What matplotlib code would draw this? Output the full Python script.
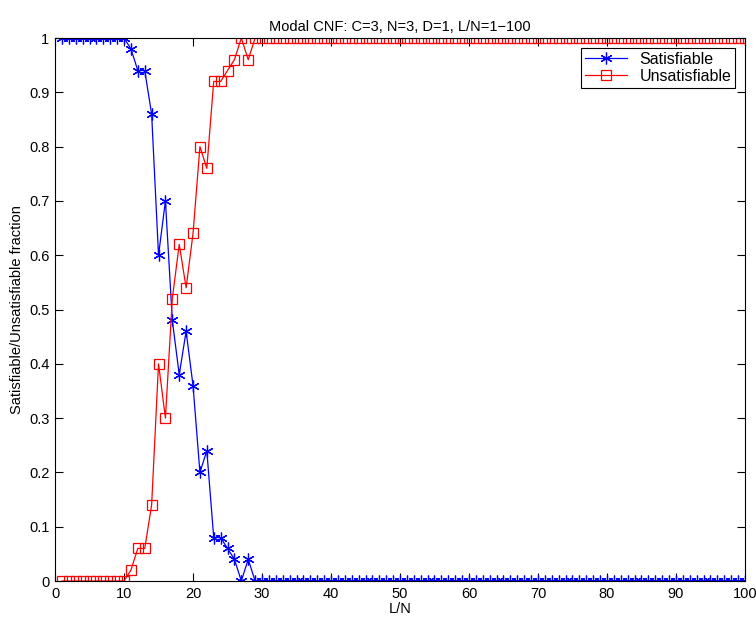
import matplotlib.pyplot as plt

plt.rcParams["font.family"] = ["Liberation Sans", "DejaVu Sans"]

ln_ratio = list(range(1, 101))
sat_head = [1.0] * 10 + [
    0.98, 0.94, 0.94, 0.86, 0.60, 0.70, 0.48, 0.38, 0.46, 0.36,
    0.20, 0.24, 0.08, 0.08, 0.06, 0.04, 0.00, 0.04,
]
satisfiable = sat_head + [0.0] * (100 - len(sat_head))
unsat_head = [0.0] * 10 + [
    0.02, 0.06, 0.06, 0.14, 0.40, 0.30, 0.52, 0.62, 0.54, 0.64,
    0.80, 0.76, 0.92, 0.92, 0.94, 0.96, 1.00, 0.96,
]
unsatisfiable = unsat_head + [1.0] * (100 - len(unsat_head))

x_ticks = list(range(0, 101, 10))
y_ticks = [0, 0.1, 0.2, 0.3, 0.4, 0.5, 0.6, 0.7, 0.8, 0.9, 1]
y_tick_labels = ["0", "0.1", "0.2", "0.3", "0.4", "0.5", "0.6", "0.7", "0.8", "0.9", "1"]


def main() -> None:
    fig = plt.figure(figsize=(7.56, 6.2), dpi=100)
    ax = fig.add_axes([0.0728, 0.0629, 0.9126, 0.8758])

    ax.plot(ln_ratio, satisfiable, color="#0000ff", linewidth=0.9,
            marker=(6, 2, 0), markersize=8.5, markeredgewidth=0.9,
            label="Satisfiable")
    ax.plot(ln_ratio, unsatisfiable, color="#ff0000", linewidth=0.9,
            marker="s", markersize=7.5, markerfacecolor="none",
            markeredgewidth=0.9, label="Unsatisfiable")

    ax.set_xlim(0, 100)
    ax.set_ylim(0, 1)
    ax.set_xticks(x_ticks)
    ax.set_yticks(y_ticks)
    ax.set_yticklabels(y_tick_labels)
    ax.tick_params(direction="in", top=True, right=True, length=6,
                   width=0.8, labelsize=10.5, pad=4)
    for sp in ax.spines.values():
        sp.set_linewidth(0.8)

    ax.set_xlabel("L/N", fontsize=10.5, labelpad=1)
    ax.set_ylabel("Satisfiable/Unsatisfiable fraction", fontsize=10.5, labelpad=4)
    ax.set_title("Modal CNF: C=3, N=3, D=1, L/N=1\u2212100", fontsize=10.5, pad=5)

    leg = ax.legend(loc="upper right", fontsize=11.5, fancybox=False,
                    edgecolor="black", framealpha=1, borderaxespad=0.6,
                    handlelength=2.6, borderpad=0.25, labelspacing=0.15)
    leg.get_frame().set_linewidth(0.8)

    fig.savefig("out.png", dpi=100)


if __name__ == "__main__":
    main()
